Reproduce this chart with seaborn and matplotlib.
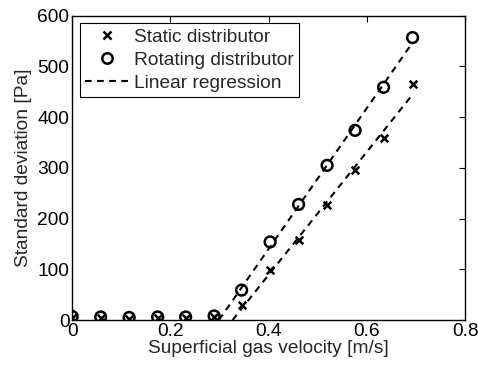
import numpy as np
import pandas as pd
import matplotlib
matplotlib.use("Agg")
import matplotlib.pyplot as plt
import seaborn as sns
from matplotlib.lines import Line2D

velocity = [0.0, 0.058, 0.116, 0.174, 0.231, 0.289, 0.345, 0.403, 0.461, 0.519, 0.576, 0.634, 0.693]
static_std = [4, 4, 3, 4, 4, 5, 30, 98, 157, 227, 296, 358, 466]
rotating_std = [7, 6, 5, 6, 6, 8, 59, 154, 228, 305, 374, 459, 557]
labels = ["Static distributor", "Rotating distributor", "Linear regression"]
xticks = [0, 0.2, 0.4, 0.6, 0.8]
yticks = [0, 100, 200, 300, 400, 500, 600]

sns.set_theme(style="white")
plt.rcParams["font.family"] = ["Liberation Sans", "DejaVu Sans"]
FS = 13.8
plt.rcParams["font.size"] = FS

fig = plt.figure(figsize=(4.78, 3.67), dpi=100)
ax = fig.add_axes([0.151, 0.128, 0.822, 0.829])

df = pd.DataFrame({"v": velocity, "s": static_std, "r": rotating_std})

# regression on rising part
rise = df[df["v"] > 0.32]
lines = []
for col in ["r", "s"]:
    k, b = np.polyfit(rise["v"], rise[col], 1)
    x0 = -b / k
    xs = np.array([x0, rise["v"].max()])
    lines.append(pd.DataFrame({"v": xs, "y": k * xs + b}))

for ld in lines:
    sns.lineplot(data=ld, x="v", y="y", ax=ax, color="black", lw=1.5,
                 linestyle=(0, (3.2, 2.6)))

sns.scatterplot(data=df, x="v", y="s", ax=ax, marker="x", s=30, color="black",
                linewidth=1.8, zorder=3)
sns.scatterplot(data=df, x="v", y="r", ax=ax, marker="o", s=60, facecolor="none",
                edgecolor="black", linewidth=1.8, zorder=3)

ax.set_xlim(0, 0.8)
ax.set_ylim(0, 600)
ax.set_xticks(xticks)
ax.set_xticklabels(["0", "0.2", "0.4", "0.6", "0.8"])
ax.set_yticks(yticks)
ax.set_yticklabels([str(t) for t in yticks])
ax.set_xlabel("Superficial gas velocity [m/s]", fontsize=FS, labelpad=0)
ax.set_ylabel("Standard deviation [Pa]", fontsize=FS, labelpad=4)
ax.tick_params(direction="in", length=4, width=0.8, top=True, right=True,
               labelsize=FS, pad=2, colors="black")
for sp in ax.spines.values():
    sp.set_color("black")
    sp.set_linewidth(1.0)

handles = [
    Line2D([], [], marker="x", color="black", linestyle="none", markersize=5.5, markeredgewidth=1.8),
    Line2D([], [], marker="o", color="black", markerfacecolor="none", linestyle="none",
           markersize=7.5, markeredgewidth=1.8),
    Line2D([], [], color="black", lw=1.5, linestyle=(0, (3.2, 2.6))),
]
leg = ax.legend(handles, labels, loc="upper left", frameon=True, fancybox=False,
                edgecolor="black", framealpha=1, fontsize=FS,
                borderpad=0.25, labelspacing=0.3, handlelength=2.3,
                handletextpad=0.3, borderaxespad=0.4)
leg.get_frame().set_linewidth(0.8)

fig.savefig("out.png", dpi=100)
